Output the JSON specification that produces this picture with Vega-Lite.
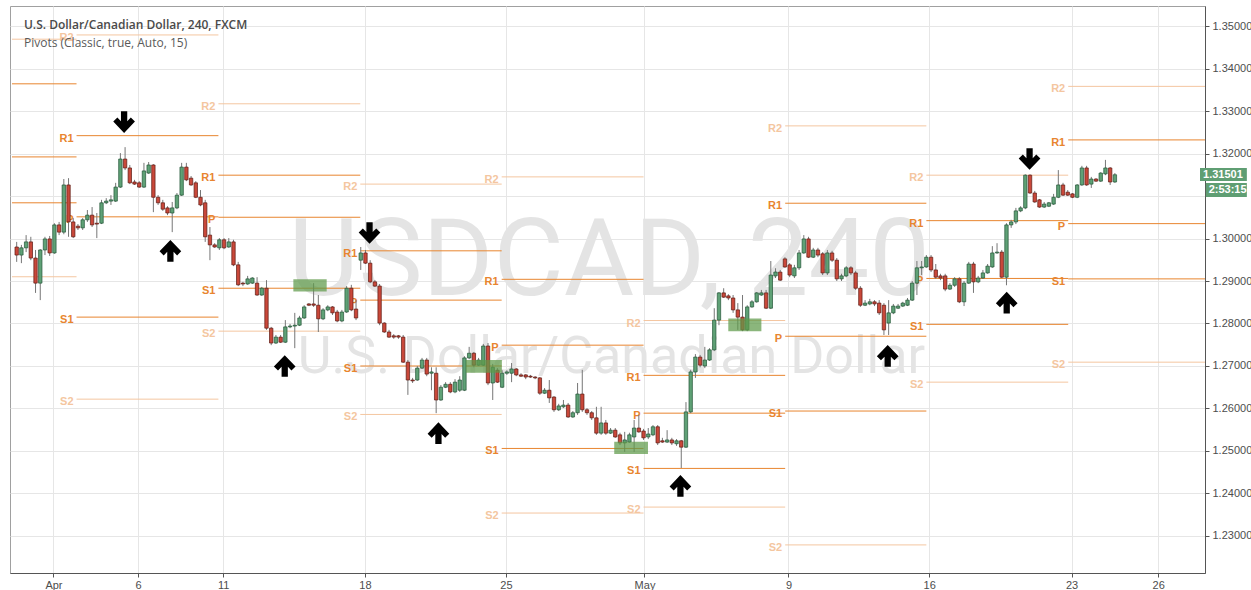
{
"$schema":"https://vega.github.io/schema/vega-lite/v6.json",
"width":1195,"height":567,"autosize":"none",
"padding":{"left":10,"top":6,"right":46,"bottom":17},
"background":"#ffffff",
"config":{"view":{"stroke":"#a0a0a0","strokeWidth":1},"font":"Liberation Sans"},
"datasets":{
"candles":[
{"i":1,"o":1.2980,"h":1.2992,"l":1.2945,"c":1.2961},{"i":2,"o":1.2961,"h":1.2985,"l":1.2942,"c":1.2978},{"i":3,"o":1.2978,"h":1.3008,"l":1.2968,"c":1.2992},{"i":4,"o":1.2992,"h":1.3004,"l":1.2949,"c":1.2954},{"i":5,"o":1.2954,"h":1.2973,"l":1.2872,"c":1.2895},
{"i":6,"o":1.2895,"h":1.2975,"l":1.2855,"c":1.2973},{"i":7,"o":1.2973,"h":1.3004,"l":1.2961,"c":1.2999},{"i":8,"o":1.2999,"h":1.3006,"l":1.2959,"c":1.2966},{"i":9,"o":1.2966,"h":1.3036,"l":1.2964,"c":1.3032},{"i":10,"o":1.3032,"h":1.3039,"l":1.3008,"c":1.3015},
{"i":11,"o":1.3015,"h":1.3140,"l":1.3010,"c":1.3126},{"i":12,"o":1.3126,"h":1.3142,"l":1.3004,"c":1.3039},{"i":13,"o":1.3039,"h":1.3048,"l":1.3001,"c":1.3004},{"i":14,"o":1.3029,"h":1.3034,"l":1.3020,"c":1.3025},{"i":15,"o":1.3025,"h":1.3048,"l":1.3020,"c":1.3044},
{"i":16,"o":1.3044,"h":1.3067,"l":1.3039,"c":1.3055},{"i":17,"o":1.3055,"h":1.3074,"l":1.3027,"c":1.3032},{"i":18,"o":1.3036,"h":1.3060,"l":1.3001,"c":1.3034},{"i":19,"o":1.3036,"h":1.3091,"l":1.3034,"c":1.3084},{"i":20,"o":1.3084,"h":1.3095,"l":1.3081,"c":1.3088},
{"i":21,"o":1.3088,"h":1.3102,"l":1.3079,"c":1.3091},{"i":22,"o":1.3088,"h":1.3131,"l":1.3086,"c":1.3121},{"i":23,"o":1.3121,"h":1.3201,"l":1.3119,"c":1.3187},{"i":24,"o":1.3187,"h":1.3215,"l":1.3161,"c":1.3166},{"i":25,"o":1.3166,"h":1.3173,"l":1.3128,"c":1.3131},
{"i":26,"o":1.3133,"h":1.3138,"l":1.3126,"c":1.3128},{"i":27,"o":1.3131,"h":1.3135,"l":1.3119,"c":1.3121},{"i":28,"o":1.3121,"h":1.3178,"l":1.3119,"c":1.3159},{"i":29,"o":1.3154,"h":1.3180,"l":1.3152,"c":1.3173},{"i":30,"o":1.3173,"h":1.3175,"l":1.3062,"c":1.3097},
{"i":31,"o":1.3097,"h":1.3102,"l":1.3079,"c":1.3084},{"i":32,"o":1.3084,"h":1.3091,"l":1.3065,"c":1.3069},{"i":33,"o":1.3072,"h":1.3076,"l":1.3055,"c":1.3060},{"i":34,"o":1.3060,"h":1.3086,"l":1.3015,"c":1.3072},{"i":35,"o":1.3072,"h":1.3107,"l":1.3069,"c":1.3102},
{"i":36,"o":1.3102,"h":1.3178,"l":1.3100,"c":1.3168},{"i":37,"o":1.3168,"h":1.3178,"l":1.3135,"c":1.3138},{"i":38,"o":1.3142,"h":1.3147,"l":1.3124,"c":1.3126},{"i":39,"o":1.3131,"h":1.3135,"l":1.3095,"c":1.3097},{"i":40,"o":1.3097,"h":1.3114,"l":1.3076,"c":1.3079},
{"i":41,"o":1.3084,"h":1.3091,"l":1.2992,"c":1.3004},{"i":42,"o":1.3008,"h":1.3027,"l":1.2949,"c":1.2985},{"i":43,"o":1.2985,"h":1.2989,"l":1.2978,"c":1.2980},{"i":44,"o":1.2978,"h":1.3001,"l":1.2973,"c":1.2997},{"i":45,"o":1.2997,"h":1.3001,"l":1.2975,"c":1.2978},
{"i":46,"o":1.2980,"h":1.3001,"l":1.2978,"c":1.2992},{"i":47,"o":1.2992,"h":1.2997,"l":1.2935,"c":1.2938},{"i":48,"o":1.2938,"h":1.2945,"l":1.2888,"c":1.2891},{"i":49,"o":1.2895,"h":1.2898,"l":1.2888,"c":1.2893},{"i":50,"o":1.2893,"h":1.2912,"l":1.2891,"c":1.2905},
{"i":51,"o":1.2895,"h":1.2909,"l":1.2893,"c":1.2907},{"i":52,"o":1.2895,"h":1.2909,"l":1.2865,"c":1.2867},{"i":53,"o":1.2867,"h":1.2886,"l":1.2865,"c":1.2883},{"i":54,"o":1.2883,"h":1.2902,"l":1.2785,"c":1.2789},{"i":55,"o":1.2789,"h":1.2792,"l":1.2749,"c":1.2754},
{"i":56,"o":1.2754,"h":1.2773,"l":1.2752,"c":1.2768},{"i":57,"o":1.2768,"h":1.2773,"l":1.2754,"c":1.2756},{"i":58,"o":1.2756,"h":1.2808,"l":1.2754,"c":1.2792},{"i":59,"o":1.2792,"h":1.2799,"l":1.2789,"c":1.2794},{"i":60,"o":1.2794,"h":1.2825,"l":1.2742,"c":1.2796},
{"i":61,"o":1.2796,"h":1.2818,"l":1.2794,"c":1.2813},{"i":62,"o":1.2813,"h":1.2843,"l":1.2811,"c":1.2839},{"i":63,"o":1.2846,"h":1.2848,"l":1.2841,"c":1.2843},{"i":64,"o":1.2846,"h":1.2895,"l":1.2839,"c":1.2843},{"i":65,"o":1.2843,"h":1.2867,"l":1.2780,"c":1.2811},
{"i":66,"o":1.2811,"h":1.2836,"l":1.2808,"c":1.2832},{"i":67,"o":1.2832,"h":1.2843,"l":1.2829,"c":1.2839},{"i":68,"o":1.2839,"h":1.2841,"l":1.2820,"c":1.2825},{"i":69,"o":1.2827,"h":1.2832,"l":1.2803,"c":1.2806},{"i":70,"o":1.2806,"h":1.2832,"l":1.2803,"c":1.2827},
{"i":71,"o":1.2827,"h":1.2888,"l":1.2825,"c":1.2883},{"i":72,"o":1.2883,"h":1.2891,"l":1.2829,"c":1.2832},{"i":73,"o":1.2834,"h":1.2855,"l":1.2808,"c":1.2813},{"i":74,"o":1.2949,"h":1.2980,"l":1.2926,"c":1.2966},{"i":75,"o":1.2966,"h":1.2973,"l":1.2940,"c":1.2942},
{"i":76,"o":1.2942,"h":1.2949,"l":1.2895,"c":1.2898},{"i":77,"o":1.2898,"h":1.2902,"l":1.2886,"c":1.2888},{"i":78,"o":1.2888,"h":1.2893,"l":1.2796,"c":1.2801},{"i":79,"o":1.2801,"h":1.2803,"l":1.2778,"c":1.2780},{"i":80,"o":1.2780,"h":1.2785,"l":1.2766,"c":1.2768},
{"i":81,"o":1.2771,"h":1.2775,"l":1.2764,"c":1.2768},{"i":82,"o":1.2771,"h":1.2773,"l":1.2764,"c":1.2768},{"i":83,"o":1.2768,"h":1.2773,"l":1.2707,"c":1.2709},{"i":84,"o":1.2709,"h":1.2714,"l":1.2632,"c":1.2667},{"i":85,"o":1.2667,"h":1.2672,"l":1.2660,"c":1.2665},
{"i":86,"o":1.2667,"h":1.2700,"l":1.2665,"c":1.2695},{"i":87,"o":1.2695,"h":1.2719,"l":1.2693,"c":1.2714},{"i":88,"o":1.2714,"h":1.2719,"l":1.2676,"c":1.2681},{"i":89,"o":1.2683,"h":1.2697,"l":1.2643,"c":1.2686},{"i":90,"o":1.2683,"h":1.2697,"l":1.2589,"c":1.2620},
{"i":91,"o":1.2620,"h":1.2655,"l":1.2618,"c":1.2650},{"i":92,"o":1.2650,"h":1.2662,"l":1.2648,"c":1.2657},{"i":93,"o":1.2657,"h":1.2662,"l":1.2636,"c":1.2639},{"i":94,"o":1.2639,"h":1.2669,"l":1.2636,"c":1.2662},{"i":95,"o":1.2643,"h":1.2676,"l":1.2639,"c":1.2667},
{"i":96,"o":1.2643,"h":1.2723,"l":1.2641,"c":1.2719},{"i":97,"o":1.2719,"h":1.2745,"l":1.2716,"c":1.2730},{"i":98,"o":1.2730,"h":1.2733,"l":1.2697,"c":1.2702},{"i":99,"o":1.2702,"h":1.2719,"l":1.2700,"c":1.2714},{"i":100,"o":1.2702,"h":1.2752,"l":1.2700,"c":1.2747},
{"i":101,"o":1.2747,"h":1.2754,"l":1.2655,"c":1.2660},{"i":102,"o":1.2660,"h":1.2705,"l":1.2620,"c":1.2697},{"i":103,"o":1.2690,"h":1.2695,"l":1.2660,"c":1.2662},{"i":104,"o":1.2650,"h":1.2690,"l":1.2648,"c":1.2683},{"i":105,"o":1.2683,"h":1.2690,"l":1.2679,"c":1.2686},
{"i":106,"o":1.2683,"h":1.2707,"l":1.2662,"c":1.2693},{"i":107,"o":1.2693,"h":1.2695,"l":1.2676,"c":1.2679},{"i":108,"o":1.2679,"h":1.2683,"l":1.2674,"c":1.2676},{"i":109,"o":1.2679,"h":1.2681,"l":1.2669,"c":1.2674},{"i":110,"o":1.2676,"h":1.2679,"l":1.2672,"c":1.2674},
{"i":111,"o":1.2674,"h":1.2676,"l":1.2669,"c":1.2672},{"i":112,"o":1.2672,"h":1.2674,"l":1.2632,"c":1.2636},{"i":113,"o":1.2636,"h":1.2648,"l":1.2634,"c":1.2643},{"i":114,"o":1.2643,"h":1.2667,"l":1.2613,"c":1.2625},{"i":115,"o":1.2627,"h":1.2629,"l":1.2592,"c":1.2597},
{"i":116,"o":1.2597,"h":1.2611,"l":1.2594,"c":1.2606},{"i":117,"o":1.2604,"h":1.2620,"l":1.2601,"c":1.2608},{"i":118,"o":1.2608,"h":1.2613,"l":1.2578,"c":1.2580},{"i":119,"o":1.2580,"h":1.2594,"l":1.2578,"c":1.2590},{"i":120,"o":1.2590,"h":1.2660,"l":1.2585,"c":1.2634},
{"i":121,"o":1.2634,"h":1.2691,"l":1.2592,"c":1.2597},{"i":122,"o":1.2597,"h":1.2601,"l":1.2585,"c":1.2590},{"i":123,"o":1.2590,"h":1.2594,"l":1.2573,"c":1.2578},{"i":124,"o":1.2578,"h":1.2604,"l":1.2538,"c":1.2542},{"i":125,"o":1.2542,"h":1.2604,"l":1.2538,"c":1.2566},
{"i":126,"o":1.2566,"h":1.2573,"l":1.2538,"c":1.2542},{"i":127,"o":1.2542,"h":1.2554,"l":1.2540,"c":1.2549},{"i":128,"o":1.2549,"h":1.2554,"l":1.2531,"c":1.2533},{"i":129,"o":1.2538,"h":1.2543,"l":1.2514,"c":1.2519},{"i":130,"o":1.2519,"h":1.2545,"l":1.2498,"c":1.2526},
{"i":131,"o":1.2521,"h":1.2543,"l":1.2519,"c":1.2538},{"i":132,"o":1.2533,"h":1.2573,"l":1.2498,"c":1.2554},{"i":133,"o":1.2554,"h":1.2585,"l":1.2543,"c":1.2545},{"i":134,"o":1.2547,"h":1.2552,"l":1.2526,"c":1.2531},{"i":135,"o":1.2533,"h":1.2554,"l":1.2528,"c":1.2540},
{"i":136,"o":1.2538,"h":1.2561,"l":1.2535,"c":1.2557},{"i":137,"o":1.2557,"h":1.2561,"l":1.2514,"c":1.2519},{"i":138,"o":1.2524,"h":1.2531,"l":1.2519,"c":1.2521},{"i":139,"o":1.2521,"h":1.2549,"l":1.2519,"c":1.2526},{"i":140,"o":1.2526,"h":1.2531,"l":1.2514,"c":1.2519},
{"i":141,"o":1.2517,"h":1.2528,"l":1.2512,"c":1.2524},{"i":142,"o":1.2524,"h":1.2526,"l":1.2460,"c":1.2509},{"i":143,"o":1.2509,"h":1.2615,"l":1.2507,"c":1.2592},{"i":144,"o":1.2592,"h":1.2691,"l":1.2589,"c":1.2686},{"i":145,"o":1.2686,"h":1.2728,"l":1.2672,"c":1.2721},
{"i":146,"o":1.2721,"h":1.2726,"l":1.2697,"c":1.2702},{"i":147,"o":1.2700,"h":1.2745,"l":1.2695,"c":1.2714},{"i":148,"o":1.2714,"h":1.2742,"l":1.2712,"c":1.2738},{"i":149,"o":1.2738,"h":1.2836,"l":1.2735,"c":1.2808},{"i":150,"o":1.2808,"h":1.2874,"l":1.2796,"c":1.2872},
{"i":151,"o":1.2872,"h":1.2883,"l":1.2860,"c":1.2862},{"i":152,"o":1.2865,"h":1.2869,"l":1.2855,"c":1.2860},{"i":153,"o":1.2860,"h":1.2867,"l":1.2825,"c":1.2832},{"i":154,"o":1.2832,"h":1.2848,"l":1.2785,"c":1.2815},{"i":155,"o":1.2815,"h":1.2867,"l":1.2782,"c":1.2785},
{"i":156,"o":1.2785,"h":1.2843,"l":1.2782,"c":1.2839},{"i":157,"o":1.2839,"h":1.2855,"l":1.2837,"c":1.2851},{"i":158,"o":1.2851,"h":1.2874,"l":1.2849,"c":1.2872},{"i":159,"o":1.2867,"h":1.2879,"l":1.2865,"c":1.2872},{"i":160,"o":1.2872,"h":1.2879,"l":1.2834,"c":1.2836},
{"i":161,"o":1.2836,"h":1.2947,"l":1.2834,"c":1.2914},{"i":162,"o":1.2912,"h":1.2930,"l":1.2907,"c":1.2921},{"i":163,"o":1.2921,"h":1.2926,"l":1.2900,"c":1.2902},{"i":164,"o":1.2952,"h":1.2956,"l":1.2931,"c":1.2933},{"i":165,"o":1.2938,"h":1.2942,"l":1.2909,"c":1.2914},
{"i":166,"o":1.2912,"h":1.2938,"l":1.2907,"c":1.2931},{"i":167,"o":1.2931,"h":1.2973,"l":1.2926,"c":1.2966},{"i":168,"o":1.2966,"h":1.3008,"l":1.2964,"c":1.2999},{"i":169,"o":1.2999,"h":1.3004,"l":1.2954,"c":1.2956},{"i":170,"o":1.2956,"h":1.2978,"l":1.2954,"c":1.2973},
{"i":171,"o":1.2973,"h":1.2978,"l":1.2956,"c":1.2961},{"i":172,"o":1.2964,"h":1.2968,"l":1.2914,"c":1.2919},{"i":173,"o":1.2919,"h":1.2973,"l":1.2914,"c":1.2966},{"i":174,"o":1.2966,"h":1.2971,"l":1.2945,"c":1.2949},{"i":175,"o":1.2949,"h":1.2954,"l":1.2900,"c":1.2905},
{"i":176,"o":1.2905,"h":1.2917,"l":1.2900,"c":1.2912},{"i":177,"o":1.2912,"h":1.2935,"l":1.2909,"c":1.2931},{"i":178,"o":1.2931,"h":1.2935,"l":1.2914,"c":1.2919},{"i":179,"o":1.2919,"h":1.2924,"l":1.2879,"c":1.2883},{"i":180,"o":1.2883,"h":1.2888,"l":1.2839,"c":1.2843},
{"i":181,"o":1.2843,"h":1.2855,"l":1.2841,"c":1.2848},{"i":182,"o":1.2846,"h":1.2858,"l":1.2843,"c":1.2851},{"i":183,"o":1.2851,"h":1.2855,"l":1.2841,"c":1.2846},{"i":184,"o":1.2848,"h":1.2855,"l":1.2820,"c":1.2825},{"i":185,"o":1.2843,"h":1.2848,"l":1.2773,"c":1.2785},
{"i":186,"o":1.2801,"h":1.2855,"l":1.2773,"c":1.2825},{"i":187,"o":1.2825,"h":1.2846,"l":1.2822,"c":1.2841},{"i":188,"o":1.2836,"h":1.2846,"l":1.2834,"c":1.2841},{"i":189,"o":1.2841,"h":1.2851,"l":1.2839,"c":1.2848},{"i":190,"o":1.2843,"h":1.2860,"l":1.2841,"c":1.2855},
{"i":191,"o":1.2855,"h":1.2900,"l":1.2853,"c":1.2895},{"i":192,"o":1.2895,"h":1.2947,"l":1.2867,"c":1.2931},{"i":193,"o":1.2931,"h":1.2947,"l":1.2914,"c":1.2933},{"i":194,"o":1.2933,"h":1.2961,"l":1.2931,"c":1.2956},{"i":195,"o":1.2956,"h":1.2961,"l":1.2921,"c":1.2926},
{"i":196,"o":1.2926,"h":1.2940,"l":1.2905,"c":1.2909},{"i":197,"o":1.2912,"h":1.2917,"l":1.2902,"c":1.2907},{"i":198,"o":1.2912,"h":1.2917,"l":1.2876,"c":1.2881},{"i":199,"o":1.2881,"h":1.2895,"l":1.2879,"c":1.2890},{"i":200,"o":1.2890,"h":1.2909,"l":1.2886,"c":1.2905},
{"i":201,"o":1.2905,"h":1.2909,"l":1.2848,"c":1.2851},{"i":202,"o":1.2851,"h":1.2900,"l":1.2841,"c":1.2895},{"i":203,"o":1.2895,"h":1.2945,"l":1.2893,"c":1.2940},{"i":204,"o":1.2940,"h":1.2945,"l":1.2872,"c":1.2898},{"i":205,"o":1.2898,"h":1.2912,"l":1.2895,"c":1.2907},
{"i":206,"o":1.2907,"h":1.2926,"l":1.2905,"c":1.2919},{"i":207,"o":1.2919,"h":1.2940,"l":1.2917,"c":1.2935},{"i":208,"o":1.2933,"h":1.2982,"l":1.2931,"c":1.2966},{"i":209,"o":1.2966,"h":1.2989,"l":1.2964,"c":1.2968},{"i":210,"o":1.2968,"h":1.2973,"l":1.2907,"c":1.2909},
{"i":211,"o":1.2909,"h":1.3036,"l":1.2890,"c":1.3032},{"i":212,"o":1.3032,"h":1.3044,"l":1.3025,"c":1.3039},{"i":213,"o":1.3039,"h":1.3072,"l":1.3034,"c":1.3065},{"i":214,"o":1.3065,"h":1.3076,"l":1.3062,"c":1.3072},{"i":215,"o":1.3072,"h":1.3151,"l":1.3069,"c":1.3149},
{"i":216,"o":1.3149,"h":1.3151,"l":1.3105,"c":1.3107},{"i":217,"o":1.3107,"h":1.3112,"l":1.3084,"c":1.3086},{"i":218,"o":1.3091,"h":1.3093,"l":1.3072,"c":1.3074},{"i":219,"o":1.3074,"h":1.3086,"l":1.3072,"c":1.3081},{"i":220,"o":1.3076,"h":1.3086,"l":1.3074,"c":1.3084},
{"i":221,"o":1.3081,"h":1.3105,"l":1.3079,"c":1.3097},{"i":222,"o":1.3097,"h":1.3161,"l":1.3095,"c":1.3126},{"i":223,"o":1.3126,"h":1.3131,"l":1.3100,"c":1.3102},{"i":224,"o":1.3109,"h":1.3114,"l":1.3100,"c":1.3102},{"i":225,"o":1.3105,"h":1.3107,"l":1.3095,"c":1.3097},
{"i":226,"o":1.3097,"h":1.3128,"l":1.3095,"c":1.3126},{"i":227,"o":1.3126,"h":1.3171,"l":1.3124,"c":1.3166},{"i":228,"o":1.3166,"h":1.3171,"l":1.3124,"c":1.3126},{"i":229,"o":1.3128,"h":1.3145,"l":1.3119,"c":1.3140},{"i":230,"o":1.3140,"h":1.3142,"l":1.3133,"c":1.3135},
{"i":231,"o":1.3135,"h":1.3156,"l":1.3133,"c":1.3154},{"i":232,"o":1.3152,"h":1.3185,"l":1.3149,"c":1.3166},{"i":233,"o":1.3166,"h":1.3168,"l":1.3126,"c":1.3133},{"i":234,"o":1.3133,"h":1.3154,"l":1.3131,"c":1.3150}
],
"pivots":[
{"w":0,"t":"R2","v":1.3469,"i":0,"i2":13.7},{"w":0,"t":"R1","v":1.3364,"i":0,"i2":13.7},{"w":0,"t":"P","v":1.3192,"i":0,"i2":13.7},{"w":0,"t":"S1","v":1.3084,"i":0,"i2":13.7},{"w":0,"t":"S2","v":1.2910,"i":0,"i2":13.7},
{"w":1,"t":"R2","v":1.3479,"i":13.7,"i2":43.8},{"w":1,"t":"R1","v":1.3242,"i":13.7,"i2":43.8},{"w":1,"t":"P","v":1.3051,"i":13.7,"i2":43.8},{"w":1,"t":"S1","v":1.2815,"i":13.7,"i2":43.8},{"w":1,"t":"S2","v":1.2622,"i":13.7,"i2":43.8},
{"w":2,"t":"R2","v":1.3317,"i":43.8,"i2":73.9},{"w":2,"t":"R1","v":1.3149,"i":43.8,"i2":73.9},{"w":2,"t":"P","v":1.3050,"i":43.8,"i2":73.9},{"w":2,"t":"S1","v":1.2883,"i":43.8,"i2":73.9},{"w":2,"t":"S2","v":1.2782,"i":43.8,"i2":73.9},
{"w":3,"t":"R2","v":1.3128,"i":73.9,"i2":103.9},{"w":3,"t":"R1","v":1.2971,"i":73.9,"i2":103.9},{"w":3,"t":"P","v":1.2855,"i":73.9,"i2":103.9},{"w":3,"t":"S1","v":1.2700,"i":73.9,"i2":103.9},{"w":3,"t":"S2","v":1.2586,"i":73.9,"i2":103.9},
{"w":4,"t":"R2","v":1.3145,"i":103.9,"i2":134.0},{"w":4,"t":"R1","v":1.2904,"i":103.9,"i2":134.0},{"w":4,"t":"P","v":1.2749,"i":103.9,"i2":134.0},{"w":4,"t":"S1","v":1.2506,"i":103.9,"i2":134.0},{"w":4,"t":"S2","v":1.2354,"i":103.9,"i2":134.0},
{"w":5,"t":"R2","v":1.2807,"i":134.0,"i2":164.05},{"w":5,"t":"R1","v":1.2678,"i":134.0,"i2":164.05},{"w":5,"t":"P","v":1.2589,"i":134.0,"i2":164.05},{"w":5,"t":"S1","v":1.2459,"i":134.0,"i2":164.05},{"w":5,"t":"S2","v":1.2368,"i":134.0,"i2":164.05},
{"w":6,"t":"R2","v":1.3265,"i":164.05,"i2":194.0},{"w":6,"t":"R1","v":1.3083,"i":164.05,"i2":194.0},{"w":6,"t":"P","v":1.2770,"i":164.05,"i2":194.0},{"w":6,"t":"S1","v":1.2594,"i":164.05,"i2":194.0},{"w":6,"t":"S2","v":1.2279,"i":164.05,"i2":194.0},
{"w":7,"t":"R2","v":1.3149,"i":194.0,"i2":224.1},{"w":7,"t":"R1","v":1.3042,"i":194.0,"i2":224.1},{"w":7,"t":"P","v":1.2906,"i":194.0,"i2":224.1},{"w":7,"t":"S1","v":1.2798,"i":194.0,"i2":224.1},{"w":7,"t":"S2","v":1.2662,"i":194.0,"i2":224.1},
{"w":8,"t":"R2","v":1.3358,"i":224.1,"i2":260},{"w":8,"t":"R1","v":1.3232,"i":224.1,"i2":260},{"w":8,"t":"P","v":1.3035,"i":224.1,"i2":260},{"w":8,"t":"S1","v":1.2905,"i":224.1,"i2":260},{"w":8,"t":"S2","v":1.2709,"i":224.1,"i2":260}
],
"zones":[
{"i":59.7,"i2":66.77,"p":1.2904,"p2":1.2875},{"i":96.3,"i2":103.94,"p":1.2714,"p2":1.2684},{"i":127.78,"i2":134.94,"p":1.2522,"p2":1.2493},{"i":151.98,"i2":159.0,"p":1.2812,"p2":1.2782}
],
"arrows":[
{"i":23.79,"p":1.3274,"d":"down"},{"i":75.86,"p":1.3013,"d":"down"},{"i":215.9,"p":1.3187,"d":"down"},
{"i":33.61,"p":1.2971,"d":"up"},{"i":57.87,"p":1.2700,"d":"up"},{"i":90.48,"p":1.2542,"d":"up"},{"i":141.82,"p":1.2418,"d":"up"},{"i":185.8,"p":1.2724,"d":"up"},{"i":211.05,"p":1.2849,"d":"up"}
],
"tags":[
{"i":252.06,"i2":262,"p":1.31659,"p2":1.31353,"ti":252.7,"tp":1.31506,"label":"1.31501"},
{"i":253.3,"i2":262,"p":1.31306,"p2":1.30977,"ti":253.9,"tp":1.31141,"label":"2:53:15"}
]
},
"layer":[
{"data":{"values":[{"t":"USDCAD, 240"}]},
 "mark":{"type":"text","font":"Roboto","fontSize":108,"align":"center","baseline":"alphabetic","color":"#e4e4e4"},
 "encoding":{"x":{"datum":126.7,"type":"quantitative","scale":{"domain":[0.642,252.06],"nice":false,"zero":false},"axis":{"title":null,"values":[8.8,26.73,44.83,74.9,104.8,134.2,164.75,194.6,224.8,243.2],"labelExpr":"datum.value < 10 ? 'Apr' : datum.value < 30 ? '6' : datum.value < 50 ? '11' : datum.value < 80 ? '18' : datum.value < 110 ? '25' : datum.value < 140 ? 'May' : datum.value < 170 ? '9' : datum.value < 200 ? '16' : datum.value < 230 ? '23' : '26'","grid":true,"gridColor":"#e6e6e6","domainColor":"#555555","tickColor":"#555555","tickSize":4,"labelColor":"#4d4d4d","labelFontSize":11,"labelFont":"Liberation Sans","labelPadding":2,"labelFlush":false,"labelOverlap":false}},
  "y":{"datum":1.2867,"type":"quantitative","scale":{"domain":[1.22129,1.35471],"nice":false,"zero":false},"axis":{"title":null,"orient":"right","values":[1.23,1.24,1.25,1.26,1.27,1.28,1.29,1.30,1.31,1.32,1.33,1.34,1.35],"labelExpr":"abs(datum.value - 1.31) < 0.0001 ? '' : format(datum.value, '.5f')","grid":true,"gridColor":"#e6e6e6","domainColor":"#555555","tickColor":"#555555","tickSize":4,"labelColor":"#4d4d4d","labelFontSize":11,"labelFont":"Liberation Sans","labelPadding":3,"labelFlush":false,"labelOverlap":false}},
  "text":{"field":"t"}}},
{"data":{"values":[{"t":"U.S. Dollar/Canadian Dollar"}]},
 "mark":{"type":"text","font":"Roboto","fontSize":52,"align":"center","baseline":"alphabetic","color":"#e4e4e4"},
 "encoding":{"x":{"datum":127.2,"type":"quantitative","scale":{"domain":[0.642,252.06],"nice":false,"zero":false},"axis":{"title":null,"values":[8.8,26.73,44.83,74.9,104.8,134.2,164.75,194.6,224.8,243.2],"labelExpr":"datum.value < 10 ? 'Apr' : datum.value < 30 ? '6' : datum.value < 50 ? '11' : datum.value < 80 ? '18' : datum.value < 110 ? '25' : datum.value < 140 ? 'May' : datum.value < 170 ? '9' : datum.value < 200 ? '16' : datum.value < 230 ? '23' : '26'","grid":true,"gridColor":"#e6e6e6","domainColor":"#555555","tickColor":"#555555","tickSize":4,"labelColor":"#4d4d4d","labelFontSize":11,"labelFont":"Liberation Sans","labelPadding":2,"labelFlush":false,"labelOverlap":false}},
  "y":{"datum":1.26836,"type":"quantitative","scale":{"domain":[1.22129,1.35471],"nice":false,"zero":false},"axis":{"title":null,"orient":"right","values":[1.23,1.24,1.25,1.26,1.27,1.28,1.29,1.30,1.31,1.32,1.33,1.34,1.35],"labelExpr":"abs(datum.value - 1.31) < 0.0001 ? '' : format(datum.value, '.5f')","grid":true,"gridColor":"#e6e6e6","domainColor":"#555555","tickColor":"#555555","tickSize":4,"labelColor":"#4d4d4d","labelFontSize":11,"labelFont":"Liberation Sans","labelPadding":3,"labelFlush":false,"labelOverlap":false}},
  "text":{"field":"t"}}},
{"data":{"name":"pivots"},
 "mark":{"type":"rule","strokeWidth":1,"clip":true},
 "encoding":{"x":{"field":"i","type":"quantitative","scale":{"domain":[0.642,252.06],"nice":false,"zero":false},"axis":{"title":null,"values":[8.8,26.73,44.83,74.9,104.8,134.2,164.75,194.6,224.8,243.2],"labelExpr":"datum.value < 10 ? 'Apr' : datum.value < 30 ? '6' : datum.value < 50 ? '11' : datum.value < 80 ? '18' : datum.value < 110 ? '25' : datum.value < 140 ? 'May' : datum.value < 170 ? '9' : datum.value < 200 ? '16' : datum.value < 230 ? '23' : '26'","grid":true,"gridColor":"#e6e6e6","domainColor":"#555555","tickColor":"#555555","tickSize":4,"labelColor":"#4d4d4d","labelFontSize":11,"labelFont":"Liberation Sans","labelPadding":2,"labelFlush":false,"labelOverlap":false}},
  "x2":{"field":"i2"},
  "y":{"field":"v","type":"quantitative","scale":{"domain":[1.22129,1.35471],"nice":false,"zero":false},"axis":{"title":null,"orient":"right","values":[1.23,1.24,1.25,1.26,1.27,1.28,1.29,1.30,1.31,1.32,1.33,1.34,1.35],"labelExpr":"abs(datum.value - 1.31) < 0.0001 ? '' : format(datum.value, '.5f')","grid":true,"gridColor":"#e6e6e6","domainColor":"#555555","tickColor":"#555555","tickSize":4,"labelColor":"#4d4d4d","labelFontSize":11,"labelFont":"Liberation Sans","labelPadding":3,"labelFlush":false,"labelOverlap":false}},
  "color":{"field":"t","type":"nominal","scale":{"domain":["R2","R1","P","S1","S2"],"range":["#f4c6a0","#e8852f","#e8852f","#e8852f","#f4c6a0"]},"legend":null}}},
{"data":{"name":"pivots"},
 "transform":[{"filter":"datum.w > 0"}],
 "mark":{"type":"text","align":"right","baseline":"middle","dx":-3,"dy":3,"fontSize":11,"fontWeight":"bold","font":"Liberation Sans"},
 "encoding":{"x":{"field":"i","type":"quantitative","scale":{"domain":[0.642,252.06],"nice":false,"zero":false},"axis":{"title":null,"values":[8.8,26.73,44.83,74.9,104.8,134.2,164.75,194.6,224.8,243.2],"labelExpr":"datum.value < 10 ? 'Apr' : datum.value < 30 ? '6' : datum.value < 50 ? '11' : datum.value < 80 ? '18' : datum.value < 110 ? '25' : datum.value < 140 ? 'May' : datum.value < 170 ? '9' : datum.value < 200 ? '16' : datum.value < 230 ? '23' : '26'","grid":true,"gridColor":"#e6e6e6","domainColor":"#555555","tickColor":"#555555","tickSize":4,"labelColor":"#4d4d4d","labelFontSize":11,"labelFont":"Liberation Sans","labelPadding":2,"labelFlush":false,"labelOverlap":false}},
  "y":{"field":"v","type":"quantitative","scale":{"domain":[1.22129,1.35471],"nice":false,"zero":false},"axis":{"title":null,"orient":"right","values":[1.23,1.24,1.25,1.26,1.27,1.28,1.29,1.30,1.31,1.32,1.33,1.34,1.35],"labelExpr":"abs(datum.value - 1.31) < 0.0001 ? '' : format(datum.value, '.5f')","grid":true,"gridColor":"#e6e6e6","domainColor":"#555555","tickColor":"#555555","tickSize":4,"labelColor":"#4d4d4d","labelFontSize":11,"labelFont":"Liberation Sans","labelPadding":3,"labelFlush":false,"labelOverlap":false}},
  "text":{"field":"t"},
  "color":{"field":"t","type":"nominal","scale":{"domain":["R2","R1","P","S1","S2"],"range":["#f4c6a0","#e8852f","#e8852f","#e8852f","#f4c6a0"]},"legend":null}}},
{"data":{"name":"candles"},
 "mark":{"type":"rule","color":"#767676","strokeWidth":1,"clip":true},
 "encoding":{"x":{"field":"i","type":"quantitative","scale":{"domain":[0.642,252.06],"nice":false,"zero":false},"axis":{"title":null,"values":[8.8,26.73,44.83,74.9,104.8,134.2,164.75,194.6,224.8,243.2],"labelExpr":"datum.value < 10 ? 'Apr' : datum.value < 30 ? '6' : datum.value < 50 ? '11' : datum.value < 80 ? '18' : datum.value < 110 ? '25' : datum.value < 140 ? 'May' : datum.value < 170 ? '9' : datum.value < 200 ? '16' : datum.value < 230 ? '23' : '26'","grid":true,"gridColor":"#e6e6e6","domainColor":"#555555","tickColor":"#555555","tickSize":4,"labelColor":"#4d4d4d","labelFontSize":11,"labelFont":"Liberation Sans","labelPadding":2,"labelFlush":false,"labelOverlap":false}},
  "y":{"field":"l","type":"quantitative","scale":{"domain":[1.22129,1.35471],"nice":false,"zero":false},"axis":{"title":null,"orient":"right","values":[1.23,1.24,1.25,1.26,1.27,1.28,1.29,1.30,1.31,1.32,1.33,1.34,1.35],"labelExpr":"abs(datum.value - 1.31) < 0.0001 ? '' : format(datum.value, '.5f')","grid":true,"gridColor":"#e6e6e6","domainColor":"#555555","tickColor":"#555555","tickSize":4,"labelColor":"#4d4d4d","labelFontSize":11,"labelFont":"Liberation Sans","labelPadding":3,"labelFlush":false,"labelOverlap":false}},
  "y2":{"field":"h"}}},
{"data":{"name":"candles"},
 "mark":{"type":"bar","width":3.4,"strokeWidth":0.7,"clip":true},
 "encoding":{"x":{"field":"i","type":"quantitative","scale":{"domain":[0.642,252.06],"nice":false,"zero":false},"axis":{"title":null,"values":[8.8,26.73,44.83,74.9,104.8,134.2,164.75,194.6,224.8,243.2],"labelExpr":"datum.value < 10 ? 'Apr' : datum.value < 30 ? '6' : datum.value < 50 ? '11' : datum.value < 80 ? '18' : datum.value < 110 ? '25' : datum.value < 140 ? 'May' : datum.value < 170 ? '9' : datum.value < 200 ? '16' : datum.value < 230 ? '23' : '26'","grid":true,"gridColor":"#e6e6e6","domainColor":"#555555","tickColor":"#555555","tickSize":4,"labelColor":"#4d4d4d","labelFontSize":11,"labelFont":"Liberation Sans","labelPadding":2,"labelFlush":false,"labelOverlap":false}},
  "y":{"field":"o","type":"quantitative","scale":{"domain":[1.22129,1.35471],"nice":false,"zero":false},"axis":{"title":null,"orient":"right","values":[1.23,1.24,1.25,1.26,1.27,1.28,1.29,1.30,1.31,1.32,1.33,1.34,1.35],"labelExpr":"abs(datum.value - 1.31) < 0.0001 ? '' : format(datum.value, '.5f')","grid":true,"gridColor":"#e6e6e6","domainColor":"#555555","tickColor":"#555555","tickSize":4,"labelColor":"#4d4d4d","labelFontSize":11,"labelFont":"Liberation Sans","labelPadding":3,"labelFlush":false,"labelOverlap":false}},
  "y2":{"field":"c"},
  "fill":{"condition":{"test":"datum.c >= datum.o","value":"#5fa176"},"value":"#c9483a"},
  "stroke":{"condition":{"test":"datum.c >= datum.o","value":"#225437"},"value":"#5b1a13"}}},
{"data":{"name":"zones"},
 "mark":{"type":"rect","color":"#5e9a4a","opacity":0.72},
 "encoding":{"x":{"field":"i","type":"quantitative","scale":{"domain":[0.642,252.06],"nice":false,"zero":false},"axis":{"title":null,"values":[8.8,26.73,44.83,74.9,104.8,134.2,164.75,194.6,224.8,243.2],"labelExpr":"datum.value < 10 ? 'Apr' : datum.value < 30 ? '6' : datum.value < 50 ? '11' : datum.value < 80 ? '18' : datum.value < 110 ? '25' : datum.value < 140 ? 'May' : datum.value < 170 ? '9' : datum.value < 200 ? '16' : datum.value < 230 ? '23' : '26'","grid":true,"gridColor":"#e6e6e6","domainColor":"#555555","tickColor":"#555555","tickSize":4,"labelColor":"#4d4d4d","labelFontSize":11,"labelFont":"Liberation Sans","labelPadding":2,"labelFlush":false,"labelOverlap":false}},
  "x2":{"field":"i2"},
  "y":{"field":"p","type":"quantitative","scale":{"domain":[1.22129,1.35471],"nice":false,"zero":false},"axis":{"title":null,"orient":"right","values":[1.23,1.24,1.25,1.26,1.27,1.28,1.29,1.30,1.31,1.32,1.33,1.34,1.35],"labelExpr":"abs(datum.value - 1.31) < 0.0001 ? '' : format(datum.value, '.5f')","grid":true,"gridColor":"#e6e6e6","domainColor":"#555555","tickColor":"#555555","tickSize":4,"labelColor":"#4d4d4d","labelFontSize":11,"labelFont":"Liberation Sans","labelPadding":3,"labelFlush":false,"labelOverlap":false}},
  "y2":{"field":"p2"}}},
{"data":{"name":"arrows"},
 "mark":{"type":"point","filled":true,"color":"#000000","opacity":1,"size":470,"strokeWidth":0},
 "encoding":{"x":{"field":"i","type":"quantitative","scale":{"domain":[0.642,252.06],"nice":false,"zero":false},"axis":{"title":null,"values":[8.8,26.73,44.83,74.9,104.8,134.2,164.75,194.6,224.8,243.2],"labelExpr":"datum.value < 10 ? 'Apr' : datum.value < 30 ? '6' : datum.value < 50 ? '11' : datum.value < 80 ? '18' : datum.value < 110 ? '25' : datum.value < 140 ? 'May' : datum.value < 170 ? '9' : datum.value < 200 ? '16' : datum.value < 230 ? '23' : '26'","grid":true,"gridColor":"#e6e6e6","domainColor":"#555555","tickColor":"#555555","tickSize":4,"labelColor":"#4d4d4d","labelFontSize":11,"labelFont":"Liberation Sans","labelPadding":2,"labelFlush":false,"labelOverlap":false}},
  "y":{"field":"p","type":"quantitative","scale":{"domain":[1.22129,1.35471],"nice":false,"zero":false},"axis":{"title":null,"orient":"right","values":[1.23,1.24,1.25,1.26,1.27,1.28,1.29,1.30,1.31,1.32,1.33,1.34,1.35],"labelExpr":"abs(datum.value - 1.31) < 0.0001 ? '' : format(datum.value, '.5f')","grid":true,"gridColor":"#e6e6e6","domainColor":"#555555","tickColor":"#555555","tickSize":4,"labelColor":"#4d4d4d","labelFontSize":11,"labelFont":"Liberation Sans","labelPadding":3,"labelFlush":false,"labelOverlap":false}},
  "shape":{"field":"d","type":"nominal","scale":{"domain":["up","down"],"range":["M 0 -1 L 1 0.05 L 0.62 0.42 L 0.29 0.08 L 0.29 1 L -0.29 1 L -0.29 0.08 L -0.62 0.42 L -1 0.05 Z","M 0 1 L 1 -0.05 L 0.62 -0.42 L 0.29 -0.08 L 0.29 -1 L -0.29 -1 L -0.29 -0.08 L -0.62 -0.42 L -1 -0.05 Z"]},"legend":null}}},
{"data":{"values":[{"t":"U.S. Dollar/Canadian Dollar, 240, FXCM"}]},
 "mark":{"type":"text","font":"Open Sans","fontSize":12,"fontWeight":600,"align":"left","baseline":"alphabetic","color":"#4a4a4a"},
 "encoding":{"x":{"datum":2.54,"type":"quantitative","scale":{"domain":[0.642,252.06],"nice":false,"zero":false},"axis":{"title":null,"values":[8.8,26.73,44.83,74.9,104.8,134.2,164.75,194.6,224.8,243.2],"labelExpr":"datum.value < 10 ? 'Apr' : datum.value < 30 ? '6' : datum.value < 50 ? '11' : datum.value < 80 ? '18' : datum.value < 110 ? '25' : datum.value < 140 ? 'May' : datum.value < 170 ? '9' : datum.value < 200 ? '16' : datum.value < 230 ? '23' : '26'","grid":true,"gridColor":"#e6e6e6","domainColor":"#555555","tickColor":"#555555","tickSize":4,"labelColor":"#4d4d4d","labelFontSize":11,"labelFont":"Liberation Sans","labelPadding":2,"labelFlush":false,"labelOverlap":false}},
  "y":{"datum":1.34923,"type":"quantitative","scale":{"domain":[1.22129,1.35471],"nice":false,"zero":false},"axis":{"title":null,"orient":"right","values":[1.23,1.24,1.25,1.26,1.27,1.28,1.29,1.30,1.31,1.32,1.33,1.34,1.35],"labelExpr":"abs(datum.value - 1.31) < 0.0001 ? '' : format(datum.value, '.5f')","grid":true,"gridColor":"#e6e6e6","domainColor":"#555555","tickColor":"#555555","tickSize":4,"labelColor":"#4d4d4d","labelFontSize":11,"labelFont":"Liberation Sans","labelPadding":3,"labelFlush":false,"labelOverlap":false}},
  "text":{"field":"t"}}},
{"data":{"values":[{"t":"Pivots (Classic, true, Auto, 15)"}]},
 "mark":{"type":"text","font":"Open Sans","fontSize":12,"align":"left","baseline":"alphabetic","color":"#5a5a5a"},
 "encoding":{"x":{"datum":2.54,"type":"quantitative","scale":{"domain":[0.642,252.06],"nice":false,"zero":false},"axis":{"title":null,"values":[8.8,26.73,44.83,74.9,104.8,134.2,164.75,194.6,224.8,243.2],"labelExpr":"datum.value < 10 ? 'Apr' : datum.value < 30 ? '6' : datum.value < 50 ? '11' : datum.value < 80 ? '18' : datum.value < 110 ? '25' : datum.value < 140 ? 'May' : datum.value < 170 ? '9' : datum.value < 200 ? '16' : datum.value < 230 ? '23' : '26'","grid":true,"gridColor":"#e6e6e6","domainColor":"#555555","tickColor":"#555555","tickSize":4,"labelColor":"#4d4d4d","labelFontSize":11,"labelFont":"Liberation Sans","labelPadding":2,"labelFlush":false,"labelOverlap":false}},
  "y":{"datum":1.34506,"type":"quantitative","scale":{"domain":[1.22129,1.35471],"nice":false,"zero":false},"axis":{"title":null,"orient":"right","values":[1.23,1.24,1.25,1.26,1.27,1.28,1.29,1.30,1.31,1.32,1.33,1.34,1.35],"labelExpr":"abs(datum.value - 1.31) < 0.0001 ? '' : format(datum.value, '.5f')","grid":true,"gridColor":"#e6e6e6","domainColor":"#555555","tickColor":"#555555","tickSize":4,"labelColor":"#4d4d4d","labelFontSize":11,"labelFont":"Liberation Sans","labelPadding":3,"labelFlush":false,"labelOverlap":false}},
  "text":{"field":"t"}}},
{"data":{"name":"tags"},
 "mark":{"type":"rect","color":"#5f9e73"},
 "encoding":{"x":{"field":"i","type":"quantitative","scale":{"domain":[0.642,252.06],"nice":false,"zero":false},"axis":{"title":null,"values":[8.8,26.73,44.83,74.9,104.8,134.2,164.75,194.6,224.8,243.2],"labelExpr":"datum.value < 10 ? 'Apr' : datum.value < 30 ? '6' : datum.value < 50 ? '11' : datum.value < 80 ? '18' : datum.value < 110 ? '25' : datum.value < 140 ? 'May' : datum.value < 170 ? '9' : datum.value < 200 ? '16' : datum.value < 230 ? '23' : '26'","grid":true,"gridColor":"#e6e6e6","domainColor":"#555555","tickColor":"#555555","tickSize":4,"labelColor":"#4d4d4d","labelFontSize":11,"labelFont":"Liberation Sans","labelPadding":2,"labelFlush":false,"labelOverlap":false}},
  "x2":{"field":"i2"},
  "y":{"field":"p","type":"quantitative","scale":{"domain":[1.22129,1.35471],"nice":false,"zero":false},"axis":{"title":null,"orient":"right","values":[1.23,1.24,1.25,1.26,1.27,1.28,1.29,1.30,1.31,1.32,1.33,1.34,1.35],"labelExpr":"abs(datum.value - 1.31) < 0.0001 ? '' : format(datum.value, '.5f')","grid":true,"gridColor":"#e6e6e6","domainColor":"#555555","tickColor":"#555555","tickSize":4,"labelColor":"#4d4d4d","labelFontSize":11,"labelFont":"Liberation Sans","labelPadding":3,"labelFlush":false,"labelOverlap":false}},
  "y2":{"field":"p2"}}},
{"data":{"name":"tags"},
 "mark":{"type":"text","align":"left","baseline":"middle","fontSize":11,"font":"Liberation Sans","fontWeight":"bold","color":"#ffffff"},
 "encoding":{"x":{"field":"ti","type":"quantitative","scale":{"domain":[0.642,252.06],"nice":false,"zero":false},"axis":{"title":null,"values":[8.8,26.73,44.83,74.9,104.8,134.2,164.75,194.6,224.8,243.2],"labelExpr":"datum.value < 10 ? 'Apr' : datum.value < 30 ? '6' : datum.value < 50 ? '11' : datum.value < 80 ? '18' : datum.value < 110 ? '25' : datum.value < 140 ? 'May' : datum.value < 170 ? '9' : datum.value < 200 ? '16' : datum.value < 230 ? '23' : '26'","grid":true,"gridColor":"#e6e6e6","domainColor":"#555555","tickColor":"#555555","tickSize":4,"labelColor":"#4d4d4d","labelFontSize":11,"labelFont":"Liberation Sans","labelPadding":2,"labelFlush":false,"labelOverlap":false}},
  "y":{"field":"tp","type":"quantitative","scale":{"domain":[1.22129,1.35471],"nice":false,"zero":false},"axis":{"title":null,"orient":"right","values":[1.23,1.24,1.25,1.26,1.27,1.28,1.29,1.30,1.31,1.32,1.33,1.34,1.35],"labelExpr":"abs(datum.value - 1.31) < 0.0001 ? '' : format(datum.value, '.5f')","grid":true,"gridColor":"#e6e6e6","domainColor":"#555555","tickColor":"#555555","tickSize":4,"labelColor":"#4d4d4d","labelFontSize":11,"labelFont":"Liberation Sans","labelPadding":3,"labelFlush":false,"labelOverlap":false}},
  "text":{"field":"label"}}}
]
}
